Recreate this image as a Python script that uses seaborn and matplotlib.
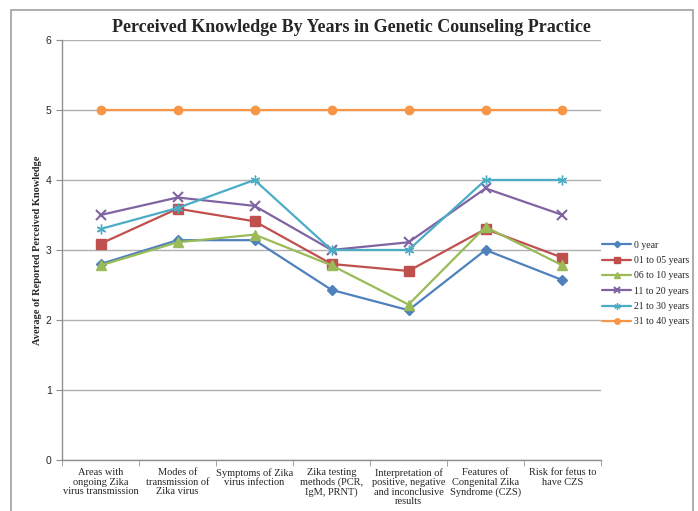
import pandas as pd
import numpy as np
import matplotlib
matplotlib.use("Agg")
import matplotlib.pyplot as plt
import seaborn as sb
from matplotlib.patches import Rectangle

# DATA
topics = ["Areas with\nongoing Zika\nvirus transmission",
          "Modes of\ntransmission of\nZika virus",
          "Symptoms of Zika\nvirus infection",
          "Zika testing\nmethods (PCR,\nIgM, PRNT)",
          "Interpretation of\npositive, negative\nand inconclusive\nresults",
          "Features of\nCongenital Zika\nSyndrome (CZS)",
          "Risk for fetus to\nhave CZS"]
groups = ["0 year", "01 to 05 years", "06 to 10 years",
          "11 to 20 years", "21 to 30 years", "31 to 40 years"]
year_0 = [2.80, 3.14, 3.14, 2.43, 2.14, 3.00, 2.57]
year_1_5 = [3.09, 3.59, 3.41, 2.80, 2.70, 3.30, 2.89]
year_6_10 = [2.78, 3.11, 3.22, 2.78, 2.22, 3.33, 2.78]
year_11_20 = [3.50, 3.75, 3.63, 3.00, 3.11, 3.88, 3.50]
year_21_30 = [3.30, 3.60, 4.00, 3.00, 3.00, 4.00, 4.00]
year_31_40 = [5.00, 5.00, 5.00, 5.00, 5.00, 5.00, 5.00]

series = [year_0, year_1_5, year_6_10, year_11_20, year_21_30, year_31_40]
rows = []
for g, vals in zip(groups, series):
    for i, v in enumerate(vals):
        rows.append({"group": g, "pos": i, "value": v})
df = pd.DataFrame(rows)

colors = ["#4F81BD", "#C0504D", "#9BBB59", "#8064A2", "#4BACC6", "#F79646"]
markers = ["D", "s", "^", "x", (6, 2, 0), "o"]
sizes = [5, 7, 7, 7, 7, 6]

sb.set_style("white")
plt.rcParams['font.family'] = ['Liberation Serif', 'DejaVu Serif']

fig = plt.figure(figsize=(6.98, 5.11), dpi=100)
ax = fig.add_axes([0.089, 0.0998, 0.772, 0.822])

# outer chart border
fig.patches.append(Rectangle((11 / 698, -0.05), 682 / 698, 1.0 - 10 / 511 + 0.05,
                             transform=fig.transFigure, fill=False,
                             edgecolor="#A0A0A0", linewidth=1.2))

for g, c, m, s in zip(groups, colors, markers, sizes):
    sub = df[df["group"] == g]
    sb.lineplot(data=sub, x="pos", y="value", ax=ax, color=c, marker=m,
                markersize=s, markeredgecolor=c, markeredgewidth=1.5 if m == "x" else 1,
                linewidth=1.6, label=g)

ax.set_xlim(-0.5, 6.5)
ax.set_ylim(0, 6)
ax.set_yticks(range(0, 7))
ax.yaxis.grid(True, color="#B0B0B0", linewidth=1)
ax.set_axisbelow(True)
ax.set_xticks(range(7))
ax.set_xticklabels(topics, fontsize=7.5, linespacing=1.05)
ax.set_xticks(np.arange(-0.5, 7, 1), minor=True)
ax.tick_params(axis="x", which="major", length=0, pad=6)
ax.tick_params(axis="x", which="minor", length=4, color="#909090", direction="out", bottom=True)
ax.tick_params(axis="y", length=4, color="#909090", direction="out", left=True, labelsize=7.5)
for lbl in ax.get_yticklabels():
    lbl.set_family(['Liberation Sans', 'DejaVu Sans'])
for sp in ["top", "right"]:
    ax.spines[sp].set_visible(False)
for sp in ["left", "bottom"]:
    ax.spines[sp].set_color("#909090")
    ax.spines[sp].set_linewidth(1)

ax.set_xlabel("")
ax.set_ylabel("Average of Reported Perceived Knowledge", fontsize=7.5,
              fontweight="bold", labelpad=3)
fig.text(0.503, 1 - 27 / 511, "Perceived Knowledge By Years in Genetic Counseling Practice",
         fontsize=13, fontweight="bold", ha="center", va="center")

ax.legend(loc="center left", bbox_to_anchor=(0.995, 0.42), frameon=False,
          fontsize=7, handlelength=3, labelspacing=0.65, handletextpad=0.3,
          borderaxespad=0, markerscale=0.65)

fig.savefig("out.png", dpi=100)
